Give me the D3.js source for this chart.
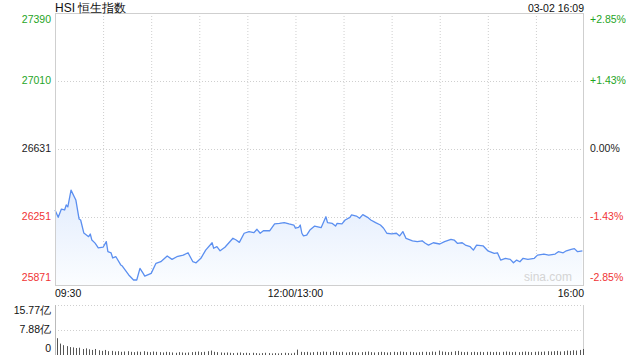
<!DOCTYPE html>
<html><head><meta charset="utf-8">
<script src="https://cdn.jsdelivr.net/npm/d3@7"></script>
<style>html,body{margin:0;padding:0;background:#fff;}svg{display:block;font-family:"Liberation Sans",Arial,sans-serif;}</style>
</head><body><svg id="c" width="640" height="360"></svg>
<script>
const title = "HSI 恒生指数";
const stamp = "03-02 16:09";
const prevClose = 26631;
const priceTicks = [25871, 26251, 26631, 27010, 27390];
const pctTicks = ["-2.85%", "-1.43%", "0.00%", "+1.43%", "+2.85%"];
const timeLabels = ["09:30", "12:00/13:00", "16:00"];
const volTicks = [0, 7.88, 15.77];
const volTickLabels = ["0", "7.88亿", "15.77亿"];

const times = ["09:30","09:32","09:34","09:36","09:37","09:38","09:40","09:42","09:43","09:45","09:46","09:48","09:51","09:52","09:53","09:55","09:57","10:00","10:02","10:03","10:05","10:06","10:08","10:11","10:12","10:16","10:19","10:21","10:23","10:25","10:26","10:30","10:33","10:36","10:40","10:43","10:46","10:50","10:53","10:56","10:58","11:01","11:04","11:08","11:09","11:11","11:13","11:16","11:21","11:23","11:25","11:28","11:31","11:34","11:36","11:38","11:40","11:44","11:47","11:50","11:53","11:56","11:59","12:00",
"13:02","13:03","13:04","13:05","13:07","13:09","13:12","13:16","13:19","13:20","13:23","13:25","13:26","13:29","13:31","13:34","13:35","13:38","13:40","13:42","13:45","13:47","13:50","13:53","13:55","13:57","14:00","14:03","14:05","14:07","14:09","14:13","14:16","14:19","14:21","14:23","14:26","14:30","14:33","14:37","14:39","14:41","14:44","14:46","14:49","14:51","14:53","14:57","15:00","15:04","15:06","15:08","15:11","15:14","15:16","15:18","15:20","15:22","15:25","15:29","15:31","15:35","15:38","15:42","15:44","15:47","15:49","15:52","15:54","15:56","15:59"];
const prices = [26290,26249,26295,26290,26318,26307,26401,26364,26346,26240,26234,26161,26141,26156,26122,26105,26078,26082,26113,26057,26050,26022,26029,25983,25977,25927,25899,25899,25964,25936,25921,25936,25992,26001,26033,26014,26029,26038,26051,26001,25995,26020,26066,26107,26076,26085,26062,26082,26132,26122,26109,26160,26169,26163,26182,26160,26174,26174,26212,26215,26219,26212,26206,26188,
26193,26206,26160,26145,26150,26178,26200,26191,26252,26219,26215,26200,26215,26212,26234,26249,26262,26256,26244,26264,26249,26234,26219,26206,26188,26160,26156,26160,26145,26169,26131,26118,26113,26118,26104,26094,26107,26100,26113,26126,26122,26104,26107,26094,26085,26066,26094,26090,26062,26048,26051,26010,26020,26014,25995,26010,26001,26020,26014,26020,26038,26044,26038,26044,26057,26051,26062,26070,26074,26057,26061];

// volume (亿), one bar per 2 minutes
const volMorning = [5.3,3.6,3.1,2.8,2.5,2.4,2.2,2.3,1.9,2.1,1.8,1.6,1.9,1.5,1.3,1.6,1.2,1.3,1.1,1.2,1.0,1.1,1.2,1.0,0.9,1.1,1.0,1.2,1.0,0.9,1.1,1.0,0.9,0.8,1.0,0.9,0.8,0.7,0.9,0.8,0.7,0.8,0.9,1.0,1.1,0.9,1.0,1.2,1.4,1.0,0.9,0.8,0.7,0.8,0.7,0.6,0.7,0.8,0.6,0.7,0.6,0.7,0.6,0.5,0.6,0.7,0.6,0.5,0.6,0.5,0.6,0.7,0.6,0.5,0.7];
const volAfternoon = [1.7,1.0,0.9,1.0,0.8,0.9,1.0,0.9,1.1,1.0,0.9,1.2,1.0,0.9,1.0,0.8,0.9,1.0,0.9,0.8,0.9,1.0,1.1,0.9,0.8,0.9,1.0,0.9,0.8,0.9,1.0,0.9,1.1,1.0,0.9,1.0,0.9,0.8,0.9,1.0,1.0,0.9,1.1,1.0,1.4,1.1,1.0,0.9,1.0,1.2,1.3,1.0,0.9,1.0,0.9,1.0,0.9,1.0,0.9,1.0,1.0,0.9,1.0,0.9,1.0,1.1,1.0,0.9,1.0,0.9,1.0,1.1,1.0,0.9,1.0,1.1,1.0,1.1,1.2,1.1,1.2,1.3,1.1,1.2,1.4,1.3,1.5,1.4,1.6,1.9];

function toMin(t){const [h,m]=t.split(":").map(Number);const v=h*60+m; return v<=720 ? v-570 : 150+(v-780);}

const svg = d3.select("#c");
const L=55, R=584, T=13, B=285, VT=305, VB=355;
const RED="#f03434", GREEN="#1fa51f", BLUE="#5b8ff0", GRID="#cfcfcf", FS=10.5;

const x = d3.scaleLinear().domain([0,330]).range([L,R]);
const y = d3.scaleLinear().domain([priceTicks[0], priceTicks[4]]).range([B,T]);
const yv = d3.scaleLinear().domain([0, volTicks[2]]).range([VB,VT]);

const defs = svg.append("defs");
const g = defs.append("linearGradient").attr("id","ag").attr("x1",0).attr("y1",0).attr("x2",0).attr("y2",1);
g.append("stop").attr("offset","0%").attr("stop-color","#e2ecfd");
g.append("stop").attr("offset","100%").attr("stop-color","#fbfdff");

// grid
const grid = svg.append("g");
d3.range(30,330,30).forEach(m=>{
  grid.append("line").attr("x1",x(m)+0.5).attr("x2",x(m)+0.5).attr("y1",T).attr("y2",B)
    .attr("stroke",GRID).attr("stroke-dasharray","1,2");
});
priceTicks.slice(1,4).forEach(p=>{
  grid.append("line").attr("x1",L).attr("x2",R).attr("y1",Math.round(y(p))+0.5).attr("y2",Math.round(y(p))+0.5)
    .attr("stroke",GRID).attr("stroke-dasharray","1,2");
});

const data = times.map((t,i)=>({m:toMin(t), p:prices[i]}));
svg.append("path").datum(data)
  .attr("d", d3.area().x(d=>x(d.m)).y0(B).y1(d=>y(d.p)))
  .attr("fill","url(#ag)");

// watermark
svg.append("text").attr("x",548).attr("y",281).attr("text-anchor","middle")
  .attr("font-size",12).attr("fill","#d4d4d4").text("sina.com");

svg.append("path").datum(data)
  .attr("d", d3.line().x(d=>x(d.m)).y(d=>y(d.p)))
  .attr("fill","none").attr("stroke",BLUE).attr("stroke-width",1.3).attr("stroke-linejoin","round");

// frame
svg.append("rect").attr("x",L+0.5).attr("y",T+0.5).attr("width",R-L-1).attr("height",B-T)
  .attr("fill","none").attr("stroke",GRID);

// left labels
priceTicks.forEach((p,i)=>{
  const col = p>prevClose?GREEN:(p<prevClose?RED:"#222");
  let yy=y(p), db="middle";
  if(i===4){yy=T+2; db="hanging";} if(i===0){yy=B-4; db="auto";}
  svg.append("text").attr("x",51).attr("y",yy).attr("text-anchor","end").attr("dominant-baseline",db)
    .attr("font-size",FS).attr("fill",col).text(p);
  svg.append("text").attr("x",590).attr("y",yy).attr("text-anchor","start").attr("dominant-baseline",db)
    .attr("font-size",FS).attr("fill",col).text(pctTicks[i]);
});

svg.append("text").attr("x",55).attr("y",12).attr("font-size",12).attr("fill","#111").text(title);
svg.append("text").attr("x",R).attr("y",12).attr("text-anchor","end").attr("font-size",FS).attr("fill","#111").text(stamp);

// time labels
const tl=[[0,"start"],[150,"middle"],[330,"end"]];
timeLabels.forEach((t,i)=>{
  svg.append("text").attr("x",x(tl[i][0])).attr("y",297).attr("text-anchor",tl[i][1])
    .attr("font-size",FS).attr("fill","#111").text(t);
});

// volume panel
[VT, (VT+VB)/2].forEach(v=>{
  svg.append("line").attr("x1",L).attr("x2",R).attr("y1",v+0.5).attr("y2",v+0.5)
    .attr("stroke",GRID).attr("stroke-dasharray","1,2");
});
svg.append("line").attr("x1",L+0.5).attr("x2",L+0.5).attr("y1",VT).attr("y2",VB).attr("stroke","#bbb");
svg.append("line").attr("x1",R-0.5).attr("x2",R-0.5).attr("y1",VT).attr("y2",VB).attr("stroke",GRID);
const vols = volMorning.map((v,i)=>({m:i*2, v})).concat(volAfternoon.map((v,j)=>({m:150+j*2, v})));
svg.append("g").selectAll("rect").data(vols).join("rect")
  .attr("x",d=>Math.round(x(d.m))+2).attr("width",1)
  .attr("y",d=>yv(d.v)).attr("height",d=>VB-yv(d.v)).attr("fill","#555");
volTicks.forEach((v,i)=>{
  let yy=yv(v), db="middle";
  if(i===2){yy=VT+1; db="hanging";} if(i===0){yy=VB-3; db="auto";}
  svg.append("text").attr("x",51).attr("y",yy).attr("text-anchor","end").attr("dominant-baseline",db)
    .attr("font-size",FS).attr("fill","#111").text(volTickLabels[i]);
});
</script></body></html>
